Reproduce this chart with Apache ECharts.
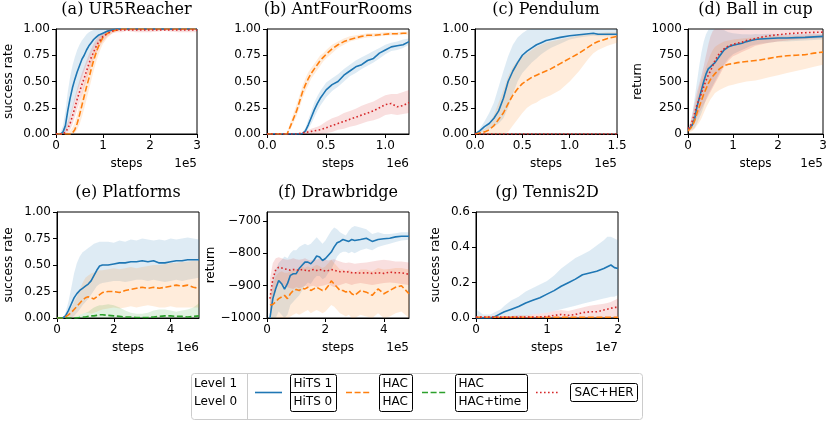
<!DOCTYPE html>
<html><head><meta charset="utf-8">
<script src="https://cdn.jsdelivr.net/npm/echarts@6/dist/echarts.min.js"></script>
<style>html,body{margin:0;padding:0;background:#fff}#c{width:830px;height:421px}</style>
</head><body><div id="c"></div><script>
// ---------- (a) UR5Reacher, x in 1e5 steps ----------
const aX = [0,0.1,0.15,0.2,0.25,0.3,0.35,0.4,0.45,0.5,0.55,0.6,0.65,0.7,0.75,0.8,0.85,0.9,0.95,1.0,1.1,1.2,1.3,1.4,1.5,1.7,2.0,2.3,2.6,3.0];
const aHits   = [0,0,0.02,0.08,0.22,0.34,0.44,0.52,0.59,0.65,0.71,0.75,0.8,0.84,0.87,0.9,0.92,0.94,0.95,0.96,0.98,0.99,1,1,1,1,1,1,1,1];
const aHitsLo = [0,0,0,0.01,0.07,0.15,0.24,0.32,0.4,0.47,0.54,0.6,0.66,0.71,0.76,0.81,0.85,0.88,0.9,0.92,0.96,0.98,0.99,1,1,1,1,1,1,1];
const aHitsHi = [0,0.02,0.08,0.22,0.4,0.54,0.65,0.73,0.8,0.85,0.89,0.92,0.95,0.97,0.98,0.99,1,1,1,1,1,1,1,1,1,1,1,1,1,1];
const aHac    = [0,0,0,0,0,0,0.01,0.04,0.1,0.18,0.27,0.36,0.45,0.53,0.62,0.7,0.77,0.83,0.88,0.92,0.96,0.98,0.99,1,1,1,1,1,1,1];
const aHacLo  = [0,0,0,0,0,0,0,0.01,0.04,0.09,0.16,0.24,0.33,0.42,0.51,0.6,0.68,0.75,0.81,0.86,0.92,0.96,0.98,0.99,0.99,1,1,1,1,1];
const aHacHi  = [0,0,0,0,0.01,0.03,0.06,0.11,0.19,0.28,0.38,0.48,0.57,0.65,0.73,0.8,0.86,0.9,0.94,0.96,0.99,1,1,1,1,1,1,1,1,1];
const aSac    = [0,0,0,0.02,0.05,0.1,0.17,0.25,0.33,0.4,0.47,0.53,0.6,0.67,0.73,0.78,0.83,0.87,0.9,0.93,0.96,0.98,0.99,0.99,0.99,0.99,0.99,0.99,0.99,0.99];
const aSacLo  = [0,0,0,0,0.01,0.04,0.09,0.16,0.23,0.3,0.37,0.44,0.51,0.58,0.65,0.71,0.76,0.81,0.85,0.88,0.93,0.96,0.97,0.97,0.98,0.97,0.97,0.98,0.97,0.97];
const aSacHi  = [0,0,0.02,0.06,0.11,0.18,0.26,0.35,0.43,0.51,0.58,0.64,0.7,0.76,0.81,0.86,0.9,0.93,0.95,0.97,0.99,1,1,1,1,1,1,1,1,1];

// ---------- (b) AntFourRooms, x in 1e6 steps ----------
const bX = [0,0.05,0.1,0.15,0.17,0.2,0.225,0.25,0.275,0.3,0.325,0.35,0.375,0.4,0.425,0.45,0.475,0.5,0.55,0.6,0.65,0.7,0.75,0.8,0.85,0.9,0.95,1.0,1.05,1.1,1.15,1.2];
const bHac    = [0,0,0,0,0,0.08,0.15,0.22,0.31,0.4,0.47,0.53,0.58,0.62,0.66,0.7,0.73,0.76,0.81,0.85,0.88,0.9,0.915,0.93,0.94,0.94,0.945,0.95,0.955,0.955,0.96,0.96];
const bHacLo  = [0,0,0,0,0,0.05,0.11,0.17,0.25,0.34,0.41,0.47,0.53,0.57,0.61,0.65,0.69,0.72,0.77,0.82,0.85,0.88,0.895,0.91,0.92,0.925,0.93,0.935,0.94,0.94,0.945,0.945];
const bHacHi  = [0,0,0,0,0.01,0.12,0.2,0.28,0.37,0.46,0.53,0.59,0.63,0.67,0.71,0.75,0.77,0.8,0.85,0.88,0.91,0.93,0.94,0.95,0.96,0.96,0.965,0.97,0.97,0.97,0.975,0.975];
const bHits   = [0,0,0,0,0,0,0,0,0,0.005,0.03,0.09,0.16,0.23,0.29,0.34,0.38,0.42,0.47,0.5,0.56,0.6,0.64,0.66,0.7,0.72,0.77,0.8,0.83,0.84,0.85,0.88];
const bHitsLo = [0,0,0,0,0,0,0,0,0,0,0.01,0.05,0.1,0.16,0.22,0.27,0.31,0.35,0.41,0.45,0.5,0.55,0.58,0.62,0.65,0.68,0.72,0.76,0.79,0.8,0.82,0.85];
const bHitsHi = [0,0,0,0,0,0,0,0,0,0.01,0.06,0.14,0.22,0.3,0.36,0.41,0.45,0.49,0.53,0.57,0.62,0.66,0.7,0.73,0.76,0.79,0.82,0.85,0.87,0.88,0.9,0.91];
const bSac    = [0,0,0,0,0,0,0,0,0.005,0.01,0.015,0.02,0.025,0.03,0.035,0.04,0.05,0.06,0.08,0.1,0.12,0.14,0.16,0.18,0.2,0.22,0.25,0.28,0.29,0.26,0.27,0.3];
const bSacLo  = [0,0,0,0,0,0,0,0,0,0,0,0,0,0,0,0,0.005,0.01,0.02,0.04,0.05,0.07,0.08,0.1,0.12,0.13,0.15,0.18,0.19,0.18,0.19,0.2];
const bSacHi  = [0,0,0,0,0,0,0,0,0.01,0.02,0.03,0.04,0.05,0.06,0.07,0.08,0.1,0.12,0.15,0.17,0.2,0.22,0.24,0.27,0.29,0.31,0.34,0.37,0.38,0.38,0.4,0.42];

// ---------- (c) Pendulum, x in 1e5 steps ----------
const cX = [0,0.05,0.1,0.15,0.2,0.25,0.3,0.35,0.4,0.45,0.5,0.55,0.6,0.65,0.7,0.75,0.8,0.9,1.0,1.1,1.2,1.25,1.3,1.4,1.5];
const cHits   = [0,0.03,0.07,0.1,0.15,0.22,0.34,0.5,0.6,0.68,0.75,0.79,0.82,0.85,0.87,0.89,0.9,0.92,0.935,0.945,0.955,0.96,0.95,0.95,0.95];
const cHitsLo = [0,0.01,0.03,0.05,0.07,0.1,0.15,0.25,0.38,0.5,0.58,0.63,0.68,0.72,0.76,0.79,0.82,0.86,0.9,0.92,0.93,0.935,0.93,0.93,0.93];
const cHitsHi = [0,0.05,0.12,0.2,0.3,0.45,0.6,0.74,0.85,0.92,0.96,0.99,1,1,1,1,1,1,1,1,1,1,1,1,1];
const cHac    = [0,0.01,0.02,0.04,0.08,0.14,0.2,0.29,0.37,0.43,0.48,0.51,0.54,0.56,0.58,0.6,0.62,0.67,0.72,0.77,0.83,0.86,0.88,0.91,0.93];
const cHacLo  = [0,0,0,0,0,0,0,0.02,0.08,0.14,0.2,0.25,0.28,0.3,0.33,0.35,0.37,0.42,0.5,0.6,0.72,0.77,0.8,0.84,0.87];
const cHacHi  = [0,0.02,0.05,0.1,0.18,0.3,0.42,0.55,0.64,0.7,0.74,0.77,0.8,0.83,0.85,0.87,0.88,0.9,0.92,0.94,0.95,0.96,0.96,0.97,0.97];
const cSac    = [0,0,0,0,0,0,0,0,0,0,0,0,0,0,0,0,0,0,0,0,0,0,0,0,0];

// ---------- (d) Ball in cup, x in 1e5 steps ----------
const dX = [0,0.05,0.1,0.15,0.2,0.25,0.3,0.35,0.4,0.45,0.5,0.55,0.6,0.7,0.8,0.9,1.0,1.1,1.2,1.3,1.4,1.5,1.6,1.8,2.0,2.2,2.4,2.6,2.8,3.0];
const dHits   = [40,60,90,150,260,340,420,500,570,620,640,660,680,740,800,830,845,855,865,880,890,900,905,910,915,915,918,920,925,930];
const dHitsLo = [20,30,40,60,100,150,200,260,330,380,420,460,500,580,660,720,760,780,800,820,840,850,860,870,880,880,885,890,895,900];
const dHitsHi = [50,100,200,350,500,650,780,880,950,990,1000,1000,1000,1000,990,970,960,955,950,950,948,952,950,955,950,948,952,950,955,950];
const dSac    = [50,70,130,200,280,330,390,450,510,560,600,650,700,770,810,840,855,865,875,890,900,910,920,935,945,955,960,965,968,970];
const dSacLo  = [30,40,70,110,160,200,240,280,320,360,400,440,480,560,640,700,740,760,780,800,820,840,850,870,880,890,900,905,910,915];
const dSacHi  = [60,110,200,300,400,480,560,650,750,850,930,980,1000,1000,1000,1000,1000,1000,1000,990,990,990,990,990,990,990,990,990,990,990];
const dHac    = [30,50,80,130,200,260,320,380,430,480,520,550,575,620,650,665,670,680,685,690,695,700,705,720,735,745,750,755,770,780];
const dHacLo  = [10,20,30,50,80,110,150,200,250,290,330,360,390,420,440,460,470,480,490,500,505,510,520,540,560,580,600,620,640,660];
const dHacHi  = [40,80,150,250,350,450,520,580,640,700,760,800,830,860,880,890,900,905,910,915,920,920,925,930,930,930,930,935,940,940];

// ---------- (e) Platforms, x in 1e6 steps ----------
const eX = [0,0.1,0.2,0.3,0.4,0.5,0.6,0.7,0.8,0.9,1.0,1.1,1.2,1.3,1.4,1.5,1.6,1.8,2.0,2.2,2.4,2.6,2.8,3.0,3.2,3.4,3.6,3.8,4.0,4.2,4.4,4.6,4.8,5.0];
const eHits   = [0,0,0,0.02,0.07,0.13,0.19,0.23,0.26,0.28,0.3,0.32,0.35,0.4,0.45,0.49,0.5,0.5,0.51,0.52,0.52,0.53,0.53,0.54,0.53,0.54,0.52,0.52,0.53,0.54,0.54,0.55,0.55,0.55];
const eHitsLo = [0,0,0,0,0,0,0.02,0.05,0.08,0.12,0.15,0.18,0.22,0.26,0.3,0.32,0.33,0.34,0.35,0.35,0.34,0.35,0.36,0.36,0.35,0.36,0.35,0.34,0.35,0.36,0.35,0.36,0.37,0.38];
const eHitsHi = [0,0,0,0.05,0.15,0.28,0.42,0.52,0.58,0.62,0.64,0.66,0.68,0.7,0.71,0.72,0.72,0.72,0.71,0.73,0.72,0.74,0.73,0.75,0.74,0.73,0.74,0.73,0.75,0.74,0.75,0.76,0.75,0.74];
const eHac    = [0,0,0,0.01,0.03,0.05,0.08,0.11,0.14,0.17,0.19,0.2,0.19,0.18,0.2,0.22,0.24,0.25,0.25,0.24,0.26,0.27,0.28,0.29,0.28,0.29,0.28,0.29,0.3,0.31,0.3,0.31,0.29,0.28];
const eHacLo  = [0,0,0,0,0,0,0.01,0.02,0.03,0.04,0.05,0.05,0.04,0.05,0.06,0.07,0.08,0.09,0.1,0.09,0.1,0.11,0.1,0.11,0.12,0.11,0.1,0.1,0.11,0.1,0.1,0.1,0.1,0.1];
const eHacHi  = [0,0,0,0.02,0.06,0.1,0.15,0.2,0.27,0.33,0.38,0.4,0.42,0.43,0.44,0.45,0.45,0.46,0.47,0.46,0.47,0.48,0.47,0.48,0.49,0.5,0.5,0.51,0.52,0.52,0.53,0.53,0.54,0.54];
const eTime   = [0,0,0,0,0,0,0,0,0.005,0.01,0.01,0.015,0.02,0.02,0.025,0.03,0.03,0.025,0.02,0.015,0.01,0.01,0.005,0.005,0.005,0.01,0.015,0.02,0.02,0.015,0.015,0.01,0.015,0.02];
const eTimeLo = [0,0,0,0,0,0,0,0,0,0,0,0,0,0,0,0,0,0,0,0,0,0,0,0,0,0,0,0,0,0,0,0,0,0];
const eTimeHi = [0,0,0,0,0,0,0.01,0.02,0.03,0.04,0.05,0.06,0.08,0.1,0.11,0.12,0.12,0.13,0.12,0.1,0.07,0.05,0.04,0.04,0.05,0.07,0.08,0.08,0.07,0.06,0.07,0.08,0.1,0.14];

// ---------- (f) Drawbridge, x in 1e5 steps ----------
const fX = [0.1,0.2,0.3,0.4,0.5,0.6,0.7,0.8,0.9,1.0,1.1,1.2,1.3,1.4,1.5,1.6,1.7,1.8,1.9,2.0,2.1,2.2,2.3,2.4,2.5,2.6,2.7,2.8,2.9,3.0,3.2,3.4,3.6,3.8,4.0,4.2,4.4,4.6,4.86];
const fHits   = [-1000,-940,-909,-884,-894,-911,-894,-868,-863,-863,-847,-837,-827,-827,-832,-822,-808,-811,-822,-816,-806,-796,-780,-767,-763,-757,-760,-763,-757,-760,-757,-753,-763,-757,-755,-753,-749,-747,-747];
const fHitsLo = [-1000,-1000,-1000,-980,-990,-1000,-990,-960,-950,-940,-930,-915,-900,-890,-895,-880,-870,-870,-880,-875,-860,-850,-830,-810,-800,-795,-795,-800,-795,-800,-790,-785,-790,-780,-775,-770,-765,-760,-758];
const fHitsHi = [-960,-880,-850,-830,-820,-810,-815,-800,-790,-790,-780,-775,-770,-775,-770,-760,-750,-760,-770,-760,-745,-730,-720,-725,-735,-740,-745,-730,-720,-715,-720,-725,-740,-735,-740,-740,-738,-735,-735];
const fSac    = [-940,-880,-850,-843,-845,-848,-850,-852,-850,-851,-853,-850,-852,-855,-852,-850,-853,-850,-852,-855,-853,-850,-852,-855,-857,-856,-858,-857,-860,-860,-861,-860,-862,-860,-862,-858,-860,-860,-865];
const fSacLo  = [-990,-940,-905,-890,-895,-900,-905,-908,-910,-905,-908,-905,-900,-905,-902,-900,-905,-902,-900,-898,-895,-900,-905,-900,-898,-895,-892,-895,-898,-895,-892,-895,-898,-895,-892,-890,-892,-895,-898];
const fSacHi  = [-880,-830,-815,-812,-815,-818,-820,-818,-815,-818,-820,-818,-815,-820,-822,-818,-820,-815,-818,-820,-822,-820,-818,-822,-825,-828,-830,-828,-830,-832,-830,-828,-825,-822,-820,-822,-825,-825,-828];
const fHac    = [-960,-958,-950,-940,-935,-930,-940,-925,-915,-912,-915,-908,-910,-905,-915,-910,-905,-910,-915,-912,-900,-885,-895,-905,-915,-915,-920,-915,-925,-930,-915,-920,-930,-910,-925,-915,-905,-900,-925];
const fHacLo  = [-1000,-1000,-1000,-1000,-1000,-1000,-1000,-995,-990,-985,-990,-985,-980,-975,-985,-980,-975,-980,-985,-980,-970,-960,-965,-975,-985,-990,-995,-990,-1000,-1000,-990,-995,-1000,-985,-1000,-995,-985,-980,-1000];
const fHacHi  = [-930,-900,-870,-860,-855,-860,-860,-855,-850,-850,-845,-840,-845,-840,-845,-840,-835,-840,-845,-840,-830,-820,-830,-840,-850,-850,-855,-850,-855,-860,-850,-850,-855,-845,-850,-848,-845,-845,-850];

// ---------- (g) Tennis2D, x in 1e7 steps ----------
const gX = [0,0.1,0.2,0.25,0.3,0.35,0.4,0.5,0.6,0.7,0.8,0.9,1.0,1.1,1.2,1.3,1.4,1.5,1.6,1.7,1.8,1.85,1.9,1.95,2.0];
const gHits   = [0,0,0,0.005,0.015,0.025,0.035,0.05,0.065,0.085,0.1,0.115,0.135,0.155,0.18,0.2,0.22,0.245,0.255,0.265,0.28,0.29,0.3,0.285,0.28];
const gHitsLo = [0,0,0,0,0,0,0,0,0.005,0.01,0.02,0.025,0.03,0.04,0.05,0.06,0.07,0.08,0.09,0.1,0.11,0.115,0.12,0.12,0.13];
const gHitsHi = [0.05,0.02,0.02,0.03,0.04,0.05,0.07,0.1,0.12,0.15,0.17,0.19,0.21,0.24,0.28,0.31,0.34,0.36,0.38,0.41,0.44,0.46,0.46,0.45,0.44];
const gSac    = [0.005,0.005,0.005,0.005,0.005,0.005,0.005,0.005,0.005,0.005,0.005,0.006,0.008,0.015,0.02,0.015,0.02,0.03,0.035,0.035,0.045,0.05,0.055,0.06,0.06];
const gSacLo  = [0,0,0,0,0,0,0,0,0,0,0,0,0,0,0,0,0,0,0,0,0,0,0,0,0];
const gSacHi  = [0.01,0.01,0.01,0.01,0.01,0.01,0.01,0.012,0.015,0.015,0.02,0.025,0.03,0.04,0.045,0.04,0.05,0.06,0.07,0.075,0.08,0.085,0.09,0.1,0.11];
const gHac    = [0.004,0.004,0.004,0.004,0.004,0.004,0.004,0.004,0.004,0.004,0.004,0.004,0.004,0.004,0.004,0.004,0.004,0.004,0.004,0.004,0.004,0.004,0.004,0.004,0.004];

// ---------- tick labels ----------
const ticks01 = [0,0.25,0.5,0.75,1];

const COL = {hits:'#1f77b4', hac:'#ff7f0e', time:'#2ca02c', sac:'#d62728'};
const BAND = {hits:'rgba(31,119,180,0.15)', hac:'rgba(255,127,14,0.15)', time:'rgba(44,160,44,0.15)', sac:'rgba(214,39,40,0.15)'};
const DASH = {hits:'solid', hac:[6,2.6], time:[6,2.6], sac:[1.6,2.4]};
const FONT = 'DejaVu Sans';
const f2 = v => v.toFixed(2), f1 = v => v.toFixed(1), f0 = v => String(Math.round(v));
const fneg = v => (v < 0 ? '\u2212' : '') + Math.abs(v);

const panels = [
 {g:{left:56,top:29,width:141,height:105}, title:'(a) UR5Reacher', off:'1e5',
  xMin:0,xMax:3,xTicks:[0,1,2,3],xFmt:f0, yMin:0,yMax:1,yTicks:ticks01,yFmt:f2, yName:'success rate', yGap:41,
  x:aX, s:[['hits',aHits,aHitsLo,aHitsHi],['hac',aHac,aHacLo,aHacHi],['sac',aSac,aSacLo,aSacHi]]},
 {g:{left:267,top:29,width:142,height:105}, title:'(b) AntFourRooms', off:'1e6',
  xMin:0,xMax:1.2,xTicks:[0,0.5,1.0],xFmt:f1, yMin:0,yMax:1,yTicks:ticks01,yFmt:f2, yName:'', yGap:41,
  x:bX, s:[['hits',bHits,bHitsLo,bHitsHi],['hac',bHac,bHacLo,bHacHi],['sac',bSac,bSacLo,bSacHi]]},
 {g:{left:475,top:29,width:142,height:105}, title:'(c) Pendulum', off:'1e5',
  xMin:0,xMax:1.5,xTicks:[0,0.5,1.0,1.5],xFmt:f1, yMin:0,yMax:1,yTicks:ticks01,yFmt:f2, yName:'', yGap:41,
  x:cX, s:[['hits',cHits,cHitsLo,cHitsHi],['hac',cHac,cHacLo,cHacHi],['sac',cSac,null,null]]},
 {g:{left:688,top:29,width:135,height:105}, title:'(d) Ball in cup', off:'1e5',
  xMin:0,xMax:3,xTicks:[0,1,2,3],xFmt:f0, yMin:0,yMax:1000,yTicks:[0,250,500,750,1000],yFmt:f0, yName:'return', yGap:44,
  x:dX, s:[['hits',dHits,dHitsLo,dHitsHi],['hac',dHac,dHacLo,dHacHi],['sac',dSac,dSacLo,dSacHi]]},
 {g:{left:57,top:212,width:142,height:106}, title:'(e) Platforms', off:'1e6',
  xMin:0,xMax:5,xTicks:[0,2,4],xFmt:f0, yMin:0,yMax:1,yTicks:ticks01,yFmt:f2, yName:'success rate', yGap:42,
  x:eX, s:[['hits',eHits,eHitsLo,eHitsHi],['hac',eHac,eHacLo,eHacHi],['time',eTime,eTimeLo,eTimeHi]]},
 {g:{left:267,top:212,width:142,height:106}, title:'(f) Drawbridge', off:'1e5',
  xMin:0,xMax:4.86,xTicks:[0,2,4],xFmt:f0, yMin:-1000,yMax:-672,yTicks:[-1000,-900,-800,-700],yFmt:fneg, yName:'return', yGap:45,
  x:fX, s:[['hits',fHits,fHitsLo,fHitsHi],['hac',fHac,fHacLo,fHacHi],['sac',fSac,fSacLo,fSacHi]]},
 {g:{left:476,top:212,width:142,height:106}, title:'(g) Tennis2D', off:'1e7',
  xMin:0,xMax:2,xTicks:[0,1,2],xFmt:f0, yMin:0,yMax:0.6,yTicks:[0,0.2,0.4,0.6],yFmt:f1, yName:'success rate', yGap:34,
  x:gX, s:[['hits',gHits,gHitsLo,gHitsHi],['hac',gHac,null,null],['sac',gSac,gSacLo,gSacHi]]}
];

const txt = {color:'#000', fontSize:12, fontFamily:FONT};
const grids = [], xAxes = [], yAxes = [], bands = [], lines = [], graphics = [];

function bandSeries(gi, xs, lo, hi, color) {
  return {type:'custom', xAxisIndex:gi, yAxisIndex:gi, clip:true, silent:true, z:1,
    data: xs.map((x,i)=>[x, lo[i], hi[i]]), encode:{x:0, y:[1,2]},
    renderItem: function(params, api) {
      if (params.dataIndex !== 0) return null;
      const pts = [];
      for (let i = 0; i < xs.length; i++) pts.push(api.coord([xs[i], hi[i]]));
      for (let i = xs.length - 1; i >= 0; i--) pts.push(api.coord([xs[i], lo[i]]));
      return {type:'polygon', shape:{points:pts}, style:{fill:color, stroke:null}};
    }};
}

panels.forEach((p, gi) => {
  grids.push(Object.assign({show:true, borderColor:'#000', borderWidth:1, backgroundColor:'rgba(0,0,0,0)'}, p.g));
  const axLine = {show:true, onZero:false, lineStyle:{color:'#000', width:1}};
  xAxes.push({gridIndex:gi, type:'value', min:p.xMin, max:p.xMax, axisLine:axLine,
    axisTick:{show:true, inside:false, length:4, lineStyle:{color:'#000', width:1}, customValues:p.xTicks},
    axisLabel:Object.assign({customValues:p.xTicks, formatter:p.xFmt, margin:6}, txt),
    splitLine:{show:false}, name:'steps', nameLocation:'middle', nameGap:24, nameTextStyle:txt});
  yAxes.push({gridIndex:gi, type:'value', min:p.yMin, max:p.yMax, axisLine:axLine,
    axisTick:{show:true, inside:false, length:4, lineStyle:{color:'#000', width:1}, customValues:p.yTicks},
    axisLabel:Object.assign({customValues:p.yTicks, formatter:p.yFmt, margin:6}, txt),
    splitLine:{show:false}, name:p.yName, nameLocation:'middle', nameRotate:90, nameGap:p.yGap, nameTextStyle:txt});
  p.s.forEach(([k, m, lo, hi]) => {
    if (lo) bands.push(bandSeries(gi, p.x, lo, hi, BAND[k]));
    lines.push({type:'line', xAxisIndex:gi, yAxisIndex:gi, data:p.x.map((x,i)=>[x, m[i]]),
      symbol:'none', showSymbol:false, silent:true, clip:true, z:3,
      lineStyle:{color:COL[k], width:1.6, type:DASH[k], cap:'butt'}});
  });
  const cx = p.g.left + p.g.width / 2, bottom = p.g.top + p.g.height;
  graphics.push({type:'text', x:cx, y:p.g.top - 19, style:{text:p.title, fontSize:16, fontFamily:'DejaVu Serif', fill:'#000',
    align:'center', verticalAlign:'middle', textAlign:'center', textVerticalAlign:'middle'}});
  graphics.push({type:'text', x:p.g.left + p.g.width, y:bottom + 29.5, style:{text:p.off, fontSize:12, fontFamily:FONT, fill:'#000',
    align:'right', verticalAlign:'middle', textAlign:'right', textVerticalAlign:'middle'}});
});

// ---------- legend ----------
function t(text, x, y, align) {
  return {type:'text', x, y, style:{text, fontSize:12, fontFamily:FONT, fill:'#000', align:align||'left', verticalAlign:'middle', textAlign:align||'left', textVerticalAlign:'middle'}};
}
function ln(x1, x2, y, color, dash) {
  return {type:'line', shape:{x1, y1:y, x2, y2:y}, style:{stroke:color, lineWidth:1.6, lineDash:dash, lineCap:'butt'}};
}
function box2(x, w, top, bot) {
  return [{type:'rect', shape:{x, y:374.5, width:w, height:37, r:2}, style:{fill:'none', stroke:'#000', lineWidth:1}},
          {type:'line', shape:{x1:x, y1:392.5, x2:x + w, y2:392.5}, style:{stroke:'#000', lineWidth:1}},
          t(top, x + 3, 383.5), t(bot, x + 3, 402)];
}
graphics.push({type:'rect', shape:{x:191.5, y:373.5, width:451, height:46, r:3}, style:{fill:'#fff', stroke:'#cccccc', lineWidth:1}});
graphics.push({type:'line', shape:{x1:247.5, y1:373.5, x2:247.5, y2:419.5}, style:{stroke:'#cccccc', lineWidth:1}});
graphics.push(t('Level 1', 194, 383.5), t('Level 0', 194, 402));
graphics.push(ln(255, 282, 392.5, COL.hits, null));
graphics.push(...box2(290.5, 46, 'HiTS 1', 'HiTS 0'));
graphics.push(ln(346, 371, 392.5, COL.hac, [6,2.6]));
graphics.push(...box2(379.5, 33, 'HAC', 'HAC'));
graphics.push(ln(422, 447, 392.5, COL.time, [6,2.6]));
graphics.push(...box2(455.5, 72, 'HAC', 'HAC+time'));
graphics.push(ln(536, 560, 392.5, COL.sac, [1.6,2.4]));
graphics.push({type:'rect', shape:{x:570.5, y:383.5, width:67, height:18, r:2}, style:{fill:'none', stroke:'#000', lineWidth:1}});
graphics.push(t('SAC+HER', 604, 392.5, 'center'));

const chart = echarts.init(document.getElementById('c'), null, {renderer:'canvas'});
chart.setOption({
  animation:false,
  textStyle:{fontFamily:FONT},
  grid:grids, xAxis:xAxes, yAxis:yAxes,
  series:bands.concat(lines),
  graphic:{elements:graphics}
});
</script></body></html>
